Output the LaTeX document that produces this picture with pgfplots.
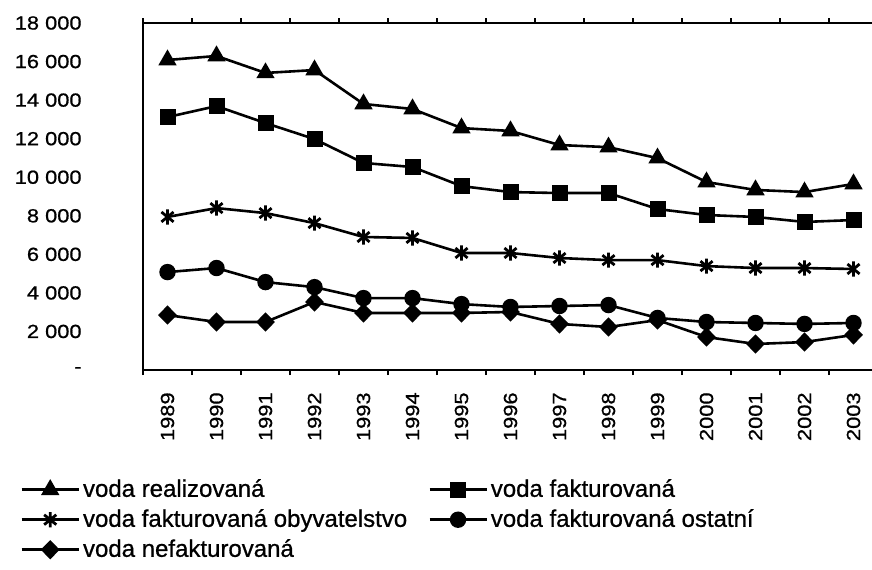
\documentclass[border=0pt]{standalone}
\usepackage{fontspec}
\setmainfont{Liberation Sans}[FakeBold=0.8]
\newfontfamily\tickfont{Liberation Sans}[FakeStretch=1.15, FakeBold=0.8]
\newfontfamily\legfont{Liberation Sans}[FakeBold=0.8]
\usepackage{pgfplots}
\pgfplotsset{compat=1.18}
\pgfdeclareplotmark{xstar}{%
  \pgfpathmoveto{\pgfqpoint{0pt}{\pgfplotmarksize}}%
  \pgfpathlineto{\pgfqpoint{0pt}{-\pgfplotmarksize}}%
  \pgfpathmoveto{\pgfqpoint{.8\pgfplotmarksize}{.65\pgfplotmarksize}}%
  \pgfpathlineto{\pgfqpoint{-.8\pgfplotmarksize}{-.65\pgfplotmarksize}}%
  \pgfpathmoveto{\pgfqpoint{-.8\pgfplotmarksize}{.65\pgfplotmarksize}}%
  \pgfpathlineto{\pgfqpoint{.8\pgfplotmarksize}{-.65\pgfplotmarksize}}%
  \pgfusepathqstroke}
\begin{document}
\begin{tikzpicture}
\begin{axis}[
  at={(71.5pt,-185pt)}, anchor=south west,
  scale only axis, width=367.5pt, height=173.5pt,
  xmin=-0.5, xmax=14.5, ymin=0, ymax=18000,
  scaled y ticks=false,
  axis line style={line width=0.9pt},
  major tick length=0pt,
  xtick={0,1,...,14},
  xticklabels={1989,1990,1991,1992,1993,1994,1995,1996,1997,1998,1999,2000,2001,2002,2003},
  extra x ticks={-0.5,0.5,...,14.5},
  extra x tick labels={},
  extra x tick style={major tick length=2.5pt, tick align=outside, tick style={line width=0.6pt, black}},
  ytick={0,2000,...,18000},
  yticklabels={-,2 000,4 000,6 000,8 000,10 000,12 000,14 000,16 000,18 000},
  yticklabel style={font=\tickfont\fontsize{9.5}{11}\selectfont, anchor=east, inner sep=0pt, xshift=-30.5pt},
  xticklabel style={font=\tickfont\fontsize{9.5}{11}\selectfont, yshift=-11pt, rotate=90, anchor=east, inner sep=0pt},
  every axis plot/.append style={black, line width=1.3pt, mark options={solid, fill=black, line width=0.8pt}},
  legend columns=2,
  legend cell align=left,
  legend style={at={(-0.1673,-0.3147)}, anchor=north west, draw=none, fill=none, inner sep=0pt,
    row sep=4.9pt, font=\legfont\fontsize{12}{14}\selectfont,
    nodes={inner xsep=1.5pt, inner ysep=0pt},
    /tikz/every even column/.append style={column sep=9pt, text height=8.6pt, text depth=2.5pt}},
  legend image code/.code={\draw[mark repeat=2,mark phase=2,#1] plot coordinates {(0pt,0pt) (14.25pt,0pt) (28.5pt,0pt)};},
]
\addplot[black, mark=triangle*, mark size=4.5pt] coordinates {
(0,16080) (1,16290) (2,15410) (3,15560) (4,13800) (5,13540) (6,12550) (7,12400)
(8,11670) (9,11560) (10,10990) (11,9750) (12,9340) (13,9230) (14,9650)};
\addlegendentry{voda realizovaná}
\addplot[black, mark=square*, mark size=3.6pt] coordinates {
(0,13120) (1,13690) (2,12810) (3,11980) (4,10740) (5,10530) (6,9540) (7,9230)
(8,9180) (9,9180) (10,8350) (11,8040) (12,7940) (13,7680) (14,7780)};
\addlegendentry{voda fakturovaná}
\addplot[black, mark=xstar, mark size=3.8pt, mark options={line width=1.4pt}] coordinates {
(0,7940) (1,8400) (2,8140) (3,7620) (4,6900) (5,6850) (6,6070) (7,6070)
(8,5810) (9,5700) (10,5700) (11,5390) (12,5290) (13,5290) (14,5240)};
\addlegendentry{voda fakturovaná obyvatelstvo}
\addplot[black, mark=*, mark size=3.7pt] coordinates {
(0,5080) (1,5290) (2,4560) (3,4300) (4,3730) (5,3730) (6,3420) (7,3270)
(8,3320) (9,3370) (10,2700) (11,2490) (12,2440) (13,2390) (14,2440)};
\addlegendentry{voda fakturovaná ostatní}
\addplot[black, mark=diamond*, mark size=3.9pt, mark options={xscale=1.3}] coordinates {
(0,2850) (1,2490) (2,2490) (3,3530) (4,2960) (5,2960) (6,2960) (7,3010)
(8,2390) (9,2230) (10,2590) (11,1710) (12,1350) (13,1450) (14,1820)};
\addlegendentry{voda nefakturovaná}
\end{axis}
\pgfresetboundingbox
\path[use as bounding box] (0pt,0pt) rectangle (436pt,-284.5pt);
\end{tikzpicture}
\end{document}
